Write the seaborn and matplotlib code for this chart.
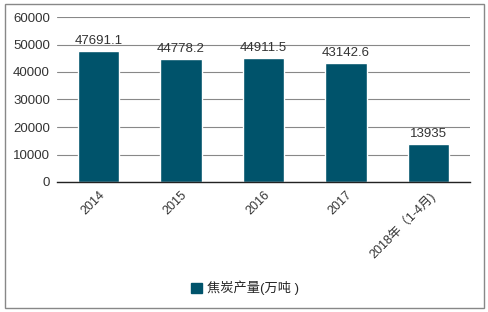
import matplotlib
matplotlib.use("Agg")
import matplotlib.pyplot as plt
import seaborn as sns
import pandas as pd
from matplotlib.patches import Rectangle, Patch

categories = ["2014", "2015", "2016", "2017", "2018年（1-4月)"]
values = [47691.1, 44778.2, 44911.5, 43142.6, 13935]
value_labels = ["47691.1", "44778.2", "44911.5", "43142.6", "13935"]
series_name = "焦炭产量(万吨 )"
yticks = [0, 10000, 20000, 30000, 40000, 50000, 60000]

sns.set_theme(style="white")
plt.rcParams['font.family'] = ['Liberation Sans', 'Noto Sans CJK SC', 'DejaVu Sans']

color = "#00536B"
df = pd.DataFrame({"cat": categories, "val": values})

fig = plt.figure(figsize=(4.88, 3.12), dpi=100)
ax = fig.add_axes([57/488, 1-182/312, (470-57)/488, (182-17)/312])

sns.barplot(data=df, x="cat", y="val", color=color, width=0.5, ax=ax, saturation=1)

ax.set_ylim(0, 60000)
ax.set_xlim(-0.5, 4.5)
ax.set_yticks(yticks)
ax.set_yticklabels([str(t) for t in yticks], fontsize=9.5, color="#333333")
ax.yaxis.grid(True, color="#888888", linewidth=0.8)
ax.set_axisbelow(True)
ax.set_xlabel("")
ax.set_ylabel("")
for s in ["top", "right", "left"]:
    ax.spines[s].set_visible(False)
ax.spines["bottom"].set_color("#222222")
ax.spines["bottom"].set_linewidth(1)
ax.tick_params(axis="both", length=0, pad=5)
ax.set_xticks(range(len(categories)))
ax.set_xticklabels(categories, rotation=45, ha="right", rotation_mode="anchor",
                   fontsize=9, color="#333333")

for i, (v, lab) in enumerate(zip(values, value_labels)):
    ax.text(i, v + 1500, lab, ha="center", va="bottom", fontsize=9.5, color="#333333")

fig.patches.append(Rectangle((5/488, 4/312), 479/488, 304/312, transform=fig.transFigure,
                             fill=False, edgecolor="#888888", linewidth=1))

handles = [Patch(facecolor=color, edgecolor=color)]
fig.legend(handles, [series_name], loc="center", bbox_to_anchor=(245/488, 1-288/312),
           frameon=False, fontsize=9.5, handlelength=0.8, handleheight=0.8, handletextpad=0.4)

fig.savefig("out.png", dpi=100)
